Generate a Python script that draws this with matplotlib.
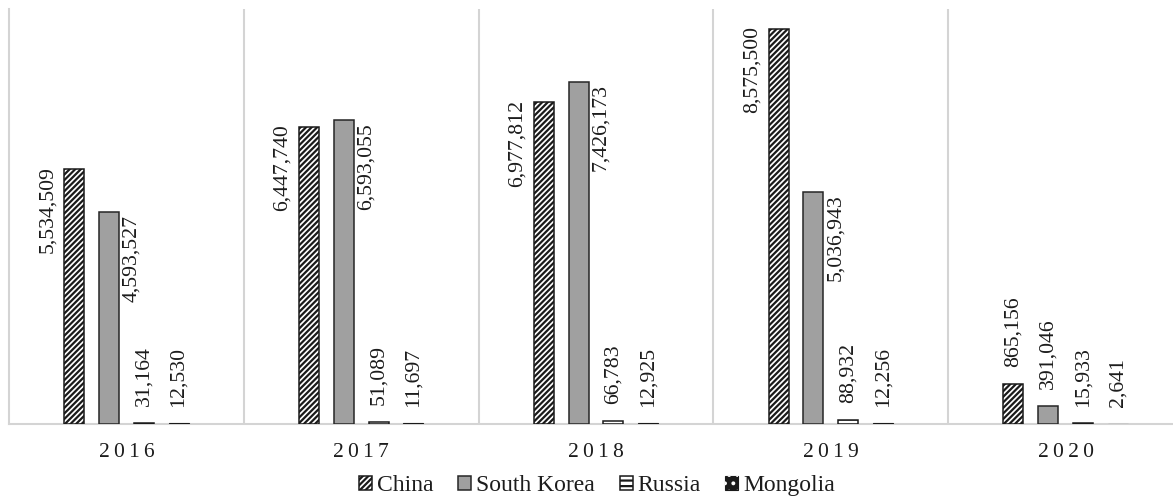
import numpy as np
import matplotlib
matplotlib.use("Agg")
import matplotlib.pyplot as plt
from matplotlib.patches import Patch
from matplotlib.legend_handler import HandlerTuple

# ---------------* data *----------------------
years = ["2016", "2017", "2018", "2019", "2020"]
china = [5534509, 6447740, 6977812, 8575500, 865156]
south_korea = [4593527, 6593055, 7426173, 5036943, 391046]
russia = [31164, 51089, 66783, 88932, 15933]
mongolia = [12530, 11697, 12925, 12256, 2641]
countries = ["China", "South Korea", "Russia", "Mongolia"]

plt.rcParams["font.family"] = ["Liberation Serif", "DejaVu Serif"]
plt.rcParams["hatch.linewidth"] = 1.6
FS_VAL = 15.7
FS_YEAR = 15.5
FS_LEG = 17
TXT = "#1c1c1c"

fig = plt.figure(figsize=(11.73, 4.98), dpi=100)
ax = fig.add_axes([9 / 1173, 74 / 498, 1174 / 1173, 415 / 498])

x = np.arange(len(years))
w = 0.085
pitch = 0.148
offsets = [-1.5 * pitch, -0.5 * pitch, 0.5 * pitch, 1.5 * pitch]

styles = [
    dict(facecolor="white", edgecolor="#1a1a1a", hatch="//////", linewidth=1.1),
    dict(facecolor="#a0a0a0", edgecolor="#262626", linewidth=1.1),
    dict(facecolor="white", edgecolor="#1a1a1a", hatch="---", linewidth=1.1),
    dict(facecolor="#1a1a1a", edgecolor="#1a1a1a", linewidth=0.8),
]
series = [china, south_korea, russia, mongolia]

for k, (vals, st) in enumerate(zip(series, styles)):
    bars = ax.bar(x + offsets[k], vals, width=w, zorder=3, **st)
    for b, v in zip(bars, vals):
        txt = f"{v:,}"
        top = b.get_height()
        if v > 2e6 and k == 0:
            # tall bar: label sits to the left, flush with the top
            ax.annotate(txt, (b.get_x(), top), xytext=(-5, 2),
                        textcoords="offset points", rotation=90,
                        ha="right", va="top", fontsize=FS_VAL, color=TXT)
        elif v > 2e6 and k == 1:
            ax.annotate(txt, (b.get_x() + b.get_width(), top), xytext=(2, -2),
                        textcoords="offset points", rotation=90,
                        ha="left", va="top", fontsize=FS_VAL, color=TXT)
        else:
            ax.annotate(txt, (b.get_x() + b.get_width() / 2, top),
                        xytext=(0, 12), textcoords="offset points",
                        rotation=90, ha="center", va="bottom",
                        fontsize=FS_VAL, color=TXT)

# ---------------* axes styling *----------------------
ax.set_xlim(-0.5, len(years) - 0.5)
ax.set_ylim(0, 9000000)
ax.set_yticks([])
ax.set_xticks(x)
ax.set_xticklabels(["\u2009".join(y) for y in years], fontsize=FS_YEAR, color=TXT)
ax.tick_params(axis="x", length=0, pad=14)

for xb in np.arange(0.5, len(years) - 0.5, 1.0):
    ax.axvline(xb, color="#d4d4d4", linewidth=1.5, zorder=1)

for s in ["top", "right"]:
    ax.spines[s].set_visible(False)
for s in ["left", "bottom"]:
    ax.spines[s].set_color("#d4d4d4")
    ax.spines[s].set_linewidth(1.5)

# legend handles
mongolia_handle = (
    Patch(facecolor="#1a1a1a", edgecolor="#1a1a1a", linewidth=0.8),
    Patch(fill=False, edgecolor="white", hatch="..", linewidth=0),
)
handles = [Patch(**styles[0]), Patch(**styles[1]), Patch(**styles[2]), mongolia_handle]
ax.legend(handles, countries, loc="center", bbox_to_anchor=(588 / 1174, -0.149),
          ncol=4, frameon=False, fontsize=FS_LEG, handlelength=0.55, handleheight=0.55,
          handletextpad=0.2, columnspacing=1.05, labelcolor=TXT,
          handler_map={tuple: HandlerTuple(ndivide=1, pad=0)})

fig.savefig("out.png", dpi=100)
